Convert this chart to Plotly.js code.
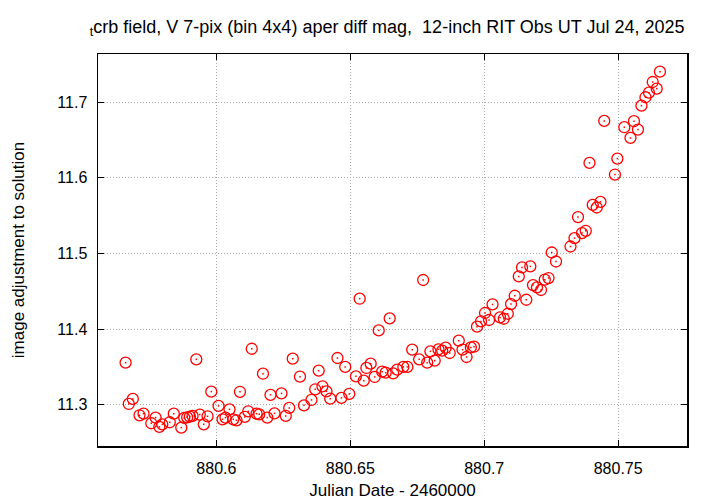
<!DOCTYPE html>
<html>
<head>
<meta charset="utf-8">
<script src="https://cdn.plot.ly/plotly-3.0.1.min.js"></script>
<style>html,body{margin:0;padding:0;background:#fff;}#chart{width:720px;height:504px;}</style>
</head>
<body>
<div id="chart"></div>
<script>
const jd = [
880.5661,880.5673,880.5688,880.5713,880.5728,880.5757,880.5773,880.5787,880.5798,880.5826,
880.5841,880.5869,880.5880,880.5891,880.5901,880.5911,880.5925,880.5938,880.5953,880.5967,
880.5981,880.6008,880.6023,880.6034,880.6049,880.6063,880.6075,880.6088,880.6106,880.6119,
880.6132,880.6150,880.6160,880.6174,880.6190,880.6202,880.6217,880.6243,880.6259,880.6272,
880.6285,880.6312,880.6327,880.6355,880.6369,880.6382,880.6396,880.6411,880.6425,880.6452,
880.6467,880.6481,880.6496,880.6521,880.6535,880.6550,880.6560,880.6576,880.6591,880.6606,
880.6619,880.6632,880.6647,880.6660,880.6675,880.6698,880.6713,880.6731,880.6757,880.6772,
880.6787,880.6799,880.6815,880.6829,880.6843,880.6856,880.6871,880.6905,880.6919,880.6934,
880.6950,880.6962,880.6973,880.6988,880.7003,880.7018,880.7031,880.7059,880.7073,880.7088,
880.7100,880.7114,880.7129,880.7141,880.7157,880.7172,880.7182,880.7197,880.7212,880.7226,
880.7240,880.7252,880.7268,880.7322,880.7337,880.7350,880.7365,880.7379,880.7393,880.7405,
880.7420,880.7434,880.7448,880.7488,880.7497,880.7523,880.7546,880.7559,880.7574,880.7587,
880.7602,880.7615,880.7629,880.7644,880.7656
];
const mag = [
11.3556,11.3010,11.3077,11.2860,11.2882,11.2755,11.2830,11.2707,11.2740,11.2768,
11.2882,11.2697,11.2826,11.2833,11.2843,11.2852,11.3600,11.2869,11.2740,11.2847,
11.3173,11.2984,11.2807,11.2830,11.2939,11.2807,11.2794,11.3171,11.2839,11.2913,
11.3740,11.2882,11.2873,11.3410,11.2830,11.3130,11.2886,11.3150,11.2852,11.2958,
11.3609,11.3371,11.2992,11.3063,11.3204,11.3450,11.3243,11.3177,11.3080,11.3618,
11.3090,11.3500,11.3143,11.3375,11.4402,11.3318,11.3486,11.3543,11.3367,11.3983,
11.3437,11.3424,11.4142,11.3415,11.3464,11.3500,11.3500,11.3728,11.3600,11.4649,
11.3556,11.3706,11.3583,11.3732,11.3715,11.3754,11.3684,11.3847,11.3728,11.3631,
11.3758,11.3767,11.4032,11.4102,11.4213,11.4120,11.4326,11.4155,11.4137,11.4203,
11.4331,11.4441,11.4697,11.4815,11.4388,11.4829,11.4582,11.4551,11.4517,11.4653,
11.4675,11.5013,11.4894,11.5092,11.5203,11.5481,11.5270,11.5300,11.6198,11.5643,
11.5608,11.5683,11.6753,11.6044,11.6255,11.6670,11.6528,11.6749,11.6638,11.6955,
11.7066,11.7127,11.7268,11.7180,11.7404
];
const xTickVals = [880.6, 880.65, 880.7, 880.75];
const xTickText = ["880.6", "880.65", "880.7", "880.75"];
const yTickVals = [11.3, 11.4, 11.5, 11.6, 11.7];
const yTickText = ["11.3", "11.4", "11.5", "11.6", "11.7"];

const fam = "Liberation Sans, Arial, sans-serif";
const font = {family: fam, size: 16, color: "#000"};

const circles = {
  x: jd, y: mag, type: "scatter", mode: "markers",
  marker: {symbol: "circle-open", size: 11, color: "#ff0000", line: {color: "#ff0000", width: 1.3}},
  hoverinfo: "skip"
};
const centers = {
  x: jd, y: mag, type: "scatter", mode: "markers",
  marker: {symbol: "square", size: 1.5, color: "#ff0000", line: {width: 0}},
  hoverinfo: "skip"
};

const axisCommon = {
  showline: true, linecolor: "#000", linewidth: 1.5, mirror: "ticks",
  ticks: "inside", ticklen: 6, tickwidth: 1, tickcolor: "#000",
  showgrid: true, gridcolor: "#a8a8a8", gridwidth: 1, griddash: "1px,2px",
  zeroline: false, tickfont: font, tickmode: "array"
};

const layout = {
  width: 720, height: 504,
  margin: {l: 98, r: 33, t: 54, b: 58},
  paper_bgcolor: "#fff", plot_bgcolor: "#fff",
  showlegend: false,
  font: font,
  title: {
    text: "<sub>t</sub>crb field, V 7-pix (bin 4x4) aper diff mag,&nbsp; 12-inch RIT Obs UT Jul 24, 2025",
    font: {family: fam, size: 18, color: "#000"}, xref: "paper", x: 0.491, xanchor: "center",
    yref: "container", y: 0.948, yanchor: "middle"
  },
  xaxis: Object.assign({}, axisCommon, {
    range: [880.5558, 880.7757], tickvals: xTickVals, ticktext: xTickText,
    ticklabelstandoff: 7,
    title: {text: "Julian Date - 2460000", font: {family: fam, size: 17, color: "#000"}, standoff: 8}
  }),
  yaxis: Object.assign({}, axisCommon, {
    range: [11.2454, 11.7638], tickvals: yTickVals, ticktext: yTickText,
    ticklabelstandoff: 6,
    title: {text: "image adjustment to solution", font: {family: fam, size: 17, color: "#000"}, standoff: 28}
  })
};

Plotly.newPlot("chart", [circles, centers], layout, {displayModeBar: false, staticPlot: true});
</script>
</body>
</html>
